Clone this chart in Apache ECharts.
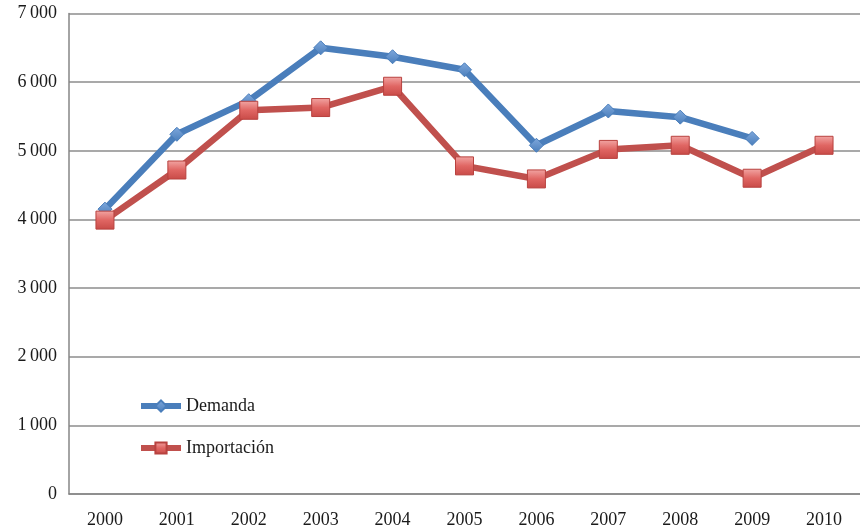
<!DOCTYPE html>
<html>
<head>
<meta charset="utf-8">
<script src="https://cdn.jsdelivr.net/npm/echarts@6/dist/echarts.min.js"></script>
<style>
  html, body { margin: 0; padding: 0; background: #fff; }
  #chart { width: 860px; height: 529px; }
</style>
</head>
<body>
<div id="chart"></div>
<script>
// Years on the category axis
const years = ['2000', '2001', '2002', '2003', '2004', '2005', '2006', '2007', '2008', '2009', '2010'];

// Demand series (no value for 2010)
const demanda = [4150, 5240, 5730, 6500, 6370, 6180, 5080, 5580, 5490, 5180, null];

// Import series
const importacion = [3990, 4720, 5590, 5630, 5940, 4780, 4590, 5020, 5080, 4600, 5080];

// Value-axis tick labels, 0 to 7000 in steps of 1000
const yTickLabels = ['0', '1\u2009000', '2\u2009000', '3\u2009000', '4\u2009000', '5\u2009000', '6\u2009000', '7\u2009000'];

const chart = echarts.init(document.getElementById('chart'));
const font = 'Liberation Serif, Times New Roman, serif';

chart.setOption({
  animation: false,
  backgroundColor: '#ffffff',
  grid: { left: 69, right: -10, top: 13.5, bottom: 34.6, containLabel: false },
  legend: {
    left: 138,
    top: 397,
    padding: 0,
    orient: 'vertical',
    itemWidth: 40,
    itemHeight: 14,
    itemGap: 24,
    lineStyle: { width: 6 },
    textStyle: { fontFamily: font, fontSize: 18, color: '#1a1a1a' },
    data: ['Demanda', 'Importación']
  },
  xAxis: {
    type: 'category',
    data: years,
    boundaryGap: true,
    axisLine: { lineStyle: { color: '#868686', width: 1.5 } },
    axisTick: { show: false },
    axisLabel: { fontFamily: font, fontSize: 18, color: '#1a1a1a', margin: 17 }
  },
  yAxis: {
    type: 'value',
    min: 0,
    max: 7000,
    interval: 1000,
    axisLine: { show: true, lineStyle: { color: '#868686', width: 1.5 } },
    axisTick: { show: false },
    splitLine: { lineStyle: { color: '#8c8c8c', width: 1.5 } },
    axisLabel: {
      fontFamily: font, fontSize: 18, color: '#1a1a1a', margin: 12,
      formatter: (v) => yTickLabels[Math.round(v / 1000)]
    }
  },
  series: [
    {
      name: 'Demanda',
      type: 'line',
      data: demanda,
      connectNulls: false,
      symbol: 'diamond',
      symbolSize: 14,
      lineStyle: { color: '#4A7EBB', width: 6.5 },
      itemStyle: {
        color: new echarts.graphic.LinearGradient(0, 0, 0, 1, [
          { offset: 0, color: '#7FA8DC' },
          { offset: 1, color: '#4A7EBB' }
        ]),
        borderColor: '#4A7EBB',
        borderWidth: 1
      },
      z: 2
    },
    {
      name: 'Importación',
      type: 'line',
      data: importacion,
      symbol: 'rect',
      symbolSize: 18,
      lineStyle: { color: '#C0504D', width: 6.5 },
      itemStyle: {
        color: new echarts.graphic.LinearGradient(0, 0, 0, 1, [
          { offset: 0, color: '#F2A6A4' },
          { offset: 0.5, color: '#E06663' },
          { offset: 1, color: '#C84A47' }
        ]),
        borderColor: '#B8423F',
        borderWidth: 1
      },
      z: 3
    }
  ]
});
</script>
</body>
</html>
